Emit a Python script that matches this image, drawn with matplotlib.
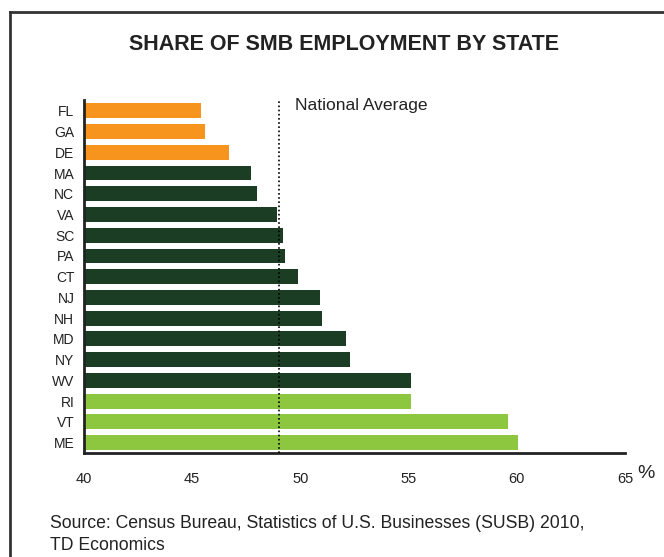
import matplotlib
matplotlib.use("Agg")
import matplotlib.pyplot as plt
from matplotlib.lines import Line2D

states = ["FL", "GA", "DE", "MA", "NC", "VA", "SC", "PA", "CT", "NJ", "NH", "MD", "NY", "WV", "RI", "VT", "ME"]
values = [45.4, 45.6, 46.7, 47.7, 48.0, 48.9, 49.2, 49.3, 49.9, 50.9, 51.0, 52.1, 52.3, 55.1, 55.1, 59.6, 60.05]
groups = ["low", "low", "low", "mid", "mid", "mid", "mid", "mid", "mid", "mid", "mid", "mid", "mid", "mid", "high", "high", "high"]
national_average = 49.0
xticks = [40, 45, 50, 55, 60, 65]

palette = {"low": "#F7941E", "mid": "#1A3D24", "high": "#8DC63F"}
plt.rcParams['font.family'] = ['Liberation Sans', 'DejaVu Sans']

fig = plt.figure(figsize=(6.64, 5.57), dpi=100)
ax = fig.add_axes([84/664, 1-453/557, (625-84)/664, (453-100)/557])

ypos = list(range(len(states)))
ax.barh(ypos, [v - 40 for v in values], left=40, height=0.72,
        color=[palette[g] for g in groups])
ax.set_ylim(16.5, -0.52)
ax.set_xlim(40, 65)
ax.set_yticks(ypos)
ax.set_yticklabels(states, fontsize=10, color="#222222")
ax.set_xticks(xticks)
ax.set_xticklabels([str(t) for t in xticks], fontsize=10.5, color="#222222")
ax.tick_params(axis='y', length=0, pad=7)
ax.tick_params(axis='x', length=0, pad=14)
for s in ["top", "right"]:
    ax.spines[s].set_visible(False)
for s in ["left", "bottom"]:
    ax.spines[s].set_linewidth(2)
    ax.spines[s].set_color("#222222")

ax.axvline(national_average, color="black", linestyle=(0, (1, 1.5)), linewidth=1.2, zorder=3)
ax.text(national_average + 0.75, -0.25, "National Average", fontsize=12.6, color="#222222", va="center", ha="left")

fig.text(646/664, 1-474/557, "%", fontsize=14, color="#222222", va="center", ha="center")
fig.text(344/664, 1-44/557, "SHARE OF SMB EMPLOYMENT BY STATE", fontsize=15.5, fontweight="bold",
         color="#222222", ha="center", va="center")
fig.text(50/664, 1-523/557, "Source: Census Bureau, Statistics of U.S. Businesses (SUSB) 2010,",
         fontsize=12.7, color="#222222", va="center", ha="left")
fig.text(50/664, 1-545/557, "TD Economics", fontsize=12.7, color="#222222", va="center", ha="left")

fig.add_artist(Line2D([10/664, 10/664], [0, 1-12/557], transform=fig.transFigure, color="#333333", linewidth=2))
fig.add_artist(Line2D([10/664, 1], [1-12/557, 1-12/557], transform=fig.transFigure, color="#333333", linewidth=2))

fig.savefig("out.png", dpi=100)
